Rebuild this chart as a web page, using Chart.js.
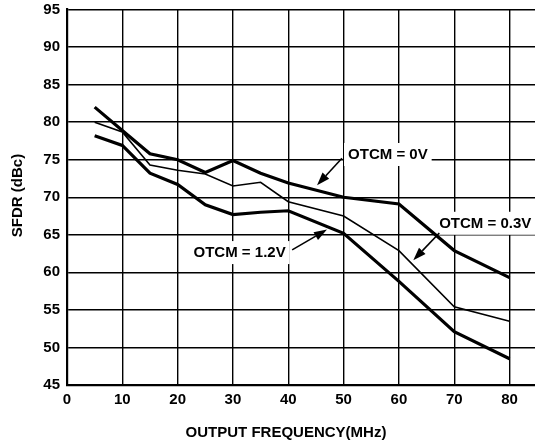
<!DOCTYPE html>
<html><head><meta charset="utf-8">
<script src="https://cdn.jsdelivr.net/npm/chart.js@4/dist/chart.umd.min.js"></script>
<style>html,body{margin:0;padding:0;background:#fff;overflow:hidden}#wrap{width:535px;height:446px;position:relative}</style>
</head><body><div id="wrap"><canvas id="c" width="535" height="446"></canvas></div>
<script>
const frequencies = [5, 10, 15, 20, 25, 30, 35, 40, 50, 60, 70, 80];
const sfdr0V  = [82.0, 78.9, 75.8, 75.0, 73.3, 74.9, 73.2, 71.9, 70.0, 69.1, 62.9, 59.3];
const sfdr03V = [80.0, 78.7, 74.3, 73.6, 73.1, 71.5, 72.0, 69.4, 67.5, 62.9, 55.4, 53.5];
const sfdr12V = [78.2, 76.9, 73.2, 71.7, 69.0, 67.7, 68.0, 68.2, 65.2, 58.8, 52.1, 48.5];
const xTicks = [0, 10, 20, 30, 40, 50, 60, 70, 80];
const yTicks = [45, 50, 55, 60, 65, 70, 75, 80, 85, 90, 95];
const seriesLabels = ['OTCM = 0V', 'OTCM = 0.3V', 'OTCM = 1.2V'];
const xTitle = 'OUTPUT FREQUENCY(MHz)';
const yTitle = 'SFDR (dBc)';
// callout positions in data units: text centre, arrow tail, arrow tip
const calloutText = [[58.0, 75.76], [75.6, 66.6], [31.2, 62.7]];
const calloutTail = [[49.7, 75.2], [67.3, 65.24], [40.7, 63.0]];
const calloutTip  = [[45.2, 71.6], [62.6, 61.6], [47.0, 65.7]];

const FONT = '"Liberation Sans", Arial, sans-serif';

function mkPts(vals){ return frequencies.map((f,i)=>({x:f, y:vals[i]})); }

const annotPlugin = {
  id: 'annot',
  beforeDatasetsDraw(chart){
    const ctx = chart.ctx, xs = chart.scales.x, ys = chart.scales.y;
    ctx.save();
    ctx.font = 'bold 15px ' + FONT;
    ctx.textAlign = 'center';
    ctx.textBaseline = 'middle';
    seriesLabels.forEach((t,i)=>{
      const cx = xs.getPixelForValue(calloutText[i][0]);
      const cy = ys.getPixelForValue(calloutText[i][1]);
      const w = ctx.measureText(t).width;
      ctx.fillStyle = '#fff';
      ctx.fillRect(cx - w/2 - 4, cy - 11, w + 8, 23);
      ctx.fillStyle = '#000';
      ctx.fillText(t, cx, cy + 1);
      const x0 = xs.getPixelForValue(calloutTail[i][0]), y0 = ys.getPixelForValue(calloutTail[i][1]);
      const x1 = xs.getPixelForValue(calloutTip[i][0]), y1 = ys.getPixelForValue(calloutTip[i][1]);
      const ang = Math.atan2(y1 - y0, x1 - x0);
      const hl = 13, hw = 4.5;
      const bx = x1 - hl*Math.cos(ang), by = y1 - hl*Math.sin(ang);
      ctx.strokeStyle = '#000';
      ctx.lineWidth = 1.6;
      ctx.beginPath(); ctx.moveTo(x0, y0); ctx.lineTo(bx, by); ctx.stroke();
      ctx.beginPath();
      ctx.moveTo(x1, y1);
      ctx.lineTo(bx + hw*Math.sin(ang), by - hw*Math.cos(ang));
      ctx.lineTo(bx - hw*Math.sin(ang), by + hw*Math.cos(ang));
      ctx.closePath(); ctx.fillStyle = '#000'; ctx.fill();
    });
    ctx.restore();
  },
  afterDraw(chart){
    const ctx = chart.ctx;
    ctx.save();
    ctx.fillStyle = '#000';
    ctx.font = 'bold 15px ' + FONT;
    ctx.textAlign = 'center';
    ctx.textBaseline = 'middle';
    ctx.fillText(xTitle, 286, 433);
    ctx.translate(17.5, 195.5);
    ctx.rotate(-Math.PI/2);
    ctx.fillText(yTitle, 0, 0);
    ctx.restore();
  }
};

new Chart(document.getElementById('c'), {
  type: 'scatter',
  data: {
    datasets: [
      {label: seriesLabels[0], data: mkPts(sfdr0V), showLine: true, borderColor: '#000', borderWidth: 3.2, pointRadius: 0, tension: 0},
      {label: seriesLabels[1], data: mkPts(sfdr03V), showLine: true, borderColor: '#000', borderWidth: 1.6, pointRadius: 0, tension: 0},
      {label: seriesLabels[2], data: mkPts(sfdr12V), showLine: true, borderColor: '#000', borderWidth: 3.2, pointRadius: 0, tension: 0}
    ]
  },
  options: {
    responsive: false,
    animation: false,
    devicePixelRatio: 1,
    layout: {padding: {top: 9.5, right: 0, left: 0, bottom: 0}},
    plugins: {legend: {display: false}, tooltip: {enabled: false}},
    scales: {
      x: {
        type: 'linear', min: 0, max: 84.6,
        afterBuildTicks(s){ s.ticks = xTicks.map(v=>({value:v})); },
        afterFit(s){ s.height = 61; s.paddingLeft = 0; s.paddingRight = 0; },
        grid: {color: '#000', lineWidth: 1.4, drawTicks: false},
        border: {color: '#000', width: 2.2},
        ticks: {color: '#000', font: {family: FONT, size: 15, weight: 'bold'}, padding: 6, maxRotation: 0, autoSkip: false}
      },
      y: {
        type: 'linear', min: 45, max: 95,
        afterBuildTicks(s){ s.ticks = yTicks.map(v=>({value:v})); },
        afterFit(s){ s.width = 67; s.paddingTop = 0; s.paddingBottom = 0; },
        grid: {color: '#000', lineWidth: 1.4, drawTicks: false},
        border: {color: '#000', width: 2.2},
        ticks: {color: '#000', font: {family: FONT, size: 15, weight: 'bold'}, padding: 7, autoSkip: false}
      }
    }
  },
  plugins: [annotPlugin]
});
</script></body></html>
